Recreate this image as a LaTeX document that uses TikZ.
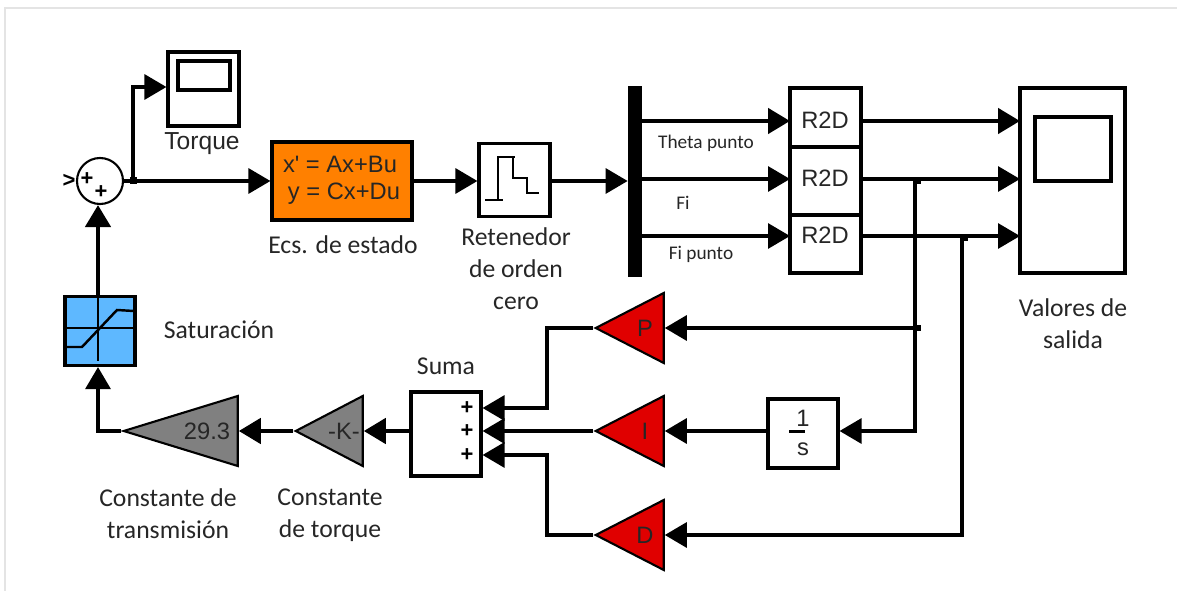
\documentclass[tikz,border=0pt]{standalone}
\usepackage{fontspec}
\setmainfont{Carlito}
\newfontfamily\blockfont{Liberation Sans}
\usetikzlibrary{positioning, shapes.geometric, arrows.meta}
\definecolor{StateOrange}{RGB}{255, 128, 0}
\definecolor{SatBlue}{RGB}{94, 184, 255}
\definecolor{GainRed}{RGB}{224, 0, 0}
\definecolor{GainGray}{RGB}{128, 128, 128}
\definecolor{FrameGray}{RGB}{228, 228, 228}
\tikzset{
  wire/.style={line width=1.8pt, -{Triangle[length=0.44cm, width=0.5cm]}},
  wirebold/.style={wire, line width=2.6pt},
  plainwire/.style={line width=1.8pt},
  blockbox/.style={draw, line width=1.8pt, inner sep=0pt},
  gain/.style={isosceles triangle, isosceles triangle stretches, shape border rotate=180,
    draw, line width=1.2pt, inner sep=0pt, anchor=apex, minimum width=1.4cm},
  caption/.style={font=\fontsize{14.6}{18.2}\selectfont, align=center, text=black!85},
  smallcap/.style={font=\fontsize{11}{13}\selectfont, text=black!85},
  blocktext/.style={font=\blockfont\fontsize{13.5}{16}\selectfont, text=black!85},
  signtext/.style={font=\blockfont\bfseries\fontsize{12.5}{12}\selectfont},
  junction/.style={fill=black, inner sep=0pt, minimum size=0.14cm}
}

\begin{document}
\begin{tikzpicture}[x=0.02cm, y=-0.02cm]
    \useasboundingbox (0,0) rectangle (1177,591);
    % Frame
    \draw[FrameGray, line width=1.2pt] (5,591) -- (5,8) -- (1177,8);

    % Top row
    \node[draw, circle, line width=1.2pt, inner sep=0pt, minimum size=0.92cm] (sum) at (100,181) {};
    \node[signtext] (signA) at (87,179) {+};
    \node[signtext] (signB) at (101,192) {+};
    \node[signtext] (signIn) at (69,181) {>};
    \node[blockbox, minimum width=1.42cm, minimum height=1.48cm] (torque) at (203.5,89) {};
    \node[blockbox, minimum width=1.04cm, minimum height=0.58cm] (torqueScreen) at (204,75.5) {};
    \node[blockbox, fill=StateOrange, minimum width=2.8cm, minimum height=1.56cm] (state) at (342,181) {};
    \node[blocktext] (stateA) at (340,164) {x' = Ax+Bu};
    \node[blocktext] (stateB) at (344,194) {y = Cx+Du};
    \node[blockbox, minimum width=1.42cm, minimum height=1.46cm] (hold) at (514.5,180) {};
    \node[fill=black, inner sep=0pt, minimum width=0.28cm, minimum height=3.82cm] (mux) at (635,181.5) {};

    % R2D blocks
    \node[blockbox, minimum width=1.42cm, minimum height=1.18cm] (boxA) at (825.5,117.5) {};
    \node[blockbox, minimum width=1.42cm, minimum height=1.36cm] (boxB) at (825.5,181.5) {};
    \node[blockbox, minimum width=1.42cm, minimum height=1.16cm] (boxC) at (825.5,244) {};
    \node[blocktext] (textA) at (825,120) {R2D};
    \node[blocktext] (textB) at (825,178) {R2D};
    \node[blocktext] (textC) at (825,235) {R2D};
    \node[blockbox, minimum width=2.1cm, minimum height=3.7cm] (output) at (1072.5,180.5) {};
    \node[blockbox, minimum width=1.52cm, minimum height=1.28cm] (outputScreen) at (1073,149) {};

    % Ports
    \coordinate (inA) at (790,121);
    \coordinate (inB) at (790,179);
    \coordinate (inC) at (790,236);
    \coordinate (outA) at (1020,121);
    \coordinate (outB) at (1020,179);
    \coordinate (outC) at (1020,236);
    \coordinate (jointSum) at (133,181);
    \coordinate (jointB) at (915,179);
    \coordinate (jointC) at (962,236);
    \coordinate (jointP) at (915,328);
    \coordinate (cornerI) at (915,431);
    \coordinate (cornerD) at (962,535);
    \coordinate (cornerUp) at (133,87);
    \coordinate (cornerP) at (547,328);
    \coordinate (cornerPin) at (547,408);
    \coordinate (cornerD2) at (547,535);
    \coordinate (cornerDin) at (547,455);
    \coordinate (cornerSat) at (98,431);

    % Feedback row
    \node[gain, fill=GainRed, minimum height=1.36cm] (gainP) at (593,328) {};
    \node[gain, fill=GainRed, minimum height=1.36cm] (gainI) at (593,431) {};
    \node[gain, fill=GainRed, minimum height=1.36cm] (gainD) at (593,535) {};
    \node[blocktext] (textP) at (645,328) {P};
    \node[blocktext] (textI) at (645,431) {I};
    \node[blocktext] (textD) at (645,535) {D};
    \node[blockbox, minimum width=1.4cm, minimum height=1.38cm] (integ) at (803,433.5) {};
    \node[blocktext] (integOne) at (803,418) {1};
    \node[blocktext] (integS) at (803,449) {s};
    \node[blockbox, minimum width=1.4cm, minimum height=1.68cm] (suma) at (446,434) {};
    \node[signtext] (plusA) at (467,408) {+};
    \node[signtext] (plusB) at (467,431) {+};
    \node[signtext] (plusC) at (467,455) {+};
    \node[gain, fill=GainGray, minimum height=1.34cm] (gainK) at (293,431) {};
    \node[blocktext] (textK) at (344,431) {-K-};
    \node[gain, fill=GainGray, minimum height=2.28cm] (gainT) at (121,431) {};
    \node[blocktext] (textT) at (207,431) {29.3};
    \node[blockbox, fill=SatBlue, minimum width=1.4cm, minimum height=1.38cm] (sat) at (100,331) {};

    % Block drawings
    \draw[line width=1.7pt] (485,200) -- (503,200) (498,200) -- (498,157) -- (515,157)
      (513,157) -- (513,178) -- (528,178) (527,178) -- (527,193) -- (539,193);
    \draw[line width=1.5pt] (integ.center) ++(-14,-2) -- ++(16,0);
    \draw[line width=1.7pt] (98,297) -- (98,361) (66,328) -- (134,328);
    \draw[line width=1.4pt] (67,347) -- (82,347) -- (117,310) -- (134,311);

    % Signals
    \draw[plainwire] (sum) -- (jointSum);
    \draw[wire] (jointSum) -- (state.west);
    \draw[wire] (jointSum) -- (cornerUp) -- (torque.west |- cornerUp);
    \draw[wire] (state.east) -- (hold.west |- state.east);
    \draw[wire] (hold.east |- state.east) -- (mux.west |- state.east);
    \draw[wirebold] (mux.east |- inA) -- (inA);
    \draw[wire] (mux.east |- inB) -- (inB);
    \draw[wire] (mux.east |- inC) -- (inC);
    \draw[wirebold] (inA -| boxA.east) -- (outA);
    \draw[wire] (inB -| boxB.east) -- (outB);
    \draw[wire] (inC -| boxC.east) -- (outC);
    \draw[wire] (jointB) -- (cornerI) -- (integ.east |- cornerI);
    \draw[wire] (jointP) -- (gainP.east |- jointP);
    \draw[wire] (jointC) -- (cornerD) -- (gainD.east |- cornerD);
    \draw[wire] (integ.west |- cornerI) -- (gainI.east |- cornerI);
    \draw[wire] (gainP.apex) -- (cornerP) -- (cornerPin) -- (suma.east |- cornerPin);
    \draw[wire] (gainI.apex) -- (suma.east |- gainI.apex);
    \draw[wire] (gainD.apex) -- (cornerD2) -- (cornerDin) -- (suma.east |- cornerDin);
    \draw[wirebold] (suma.west |- gainK.apex) -- (gainK.east |- gainK.apex);
    \draw[wirebold] (gainK.apex) -- (gainT.east |- gainK.apex);
    \draw[wire] (gainT.apex) -- (cornerSat) -- (cornerSat |- sat.south);
    \draw[wirebold] (cornerSat |- sat.north) -- (cornerSat |- sum.south);

    % Junctions
    \node[junction] (dotSum) at (jointSum) {};
    \node[junction] (dotB) at (917,181) {};
    \node[junction] (dotC) at (964,238) {};
    \node[junction] (dotP) at (917,328) {};

    % Labels
    \node[blocktext, font=\blockfont\fontsize{14}{16}\selectfont] (labelTorque) at (202,144) {Torque};
    \node[caption] (labelState) at (343,245) {Ecs. de estado};
    \node[caption] (labelHold) at (516,269) {Retenedor\\de orden\\cero};
    \node[caption] (labelOutput) at (1073,324) {Valores de\\salida};
    \node[caption] (labelSat) at (219,330) {Saturación};
    \node[caption] (labelSuma) at (446,366) {Suma};
    \node[caption] (labelTrans) at (168,514) {Constante de\\transmisión};
    \node[caption] (labelConst) at (330,515) {Constante\\de torque};
    \node[smallcap] (labelTheta) at (706,143) {Theta punto};
    \node[smallcap] (labelFi) at (683,203) {Fi};
    \node[smallcap] (labelFiDot) at (701,254) {Fi punto};
\end{tikzpicture}
\end{document}
